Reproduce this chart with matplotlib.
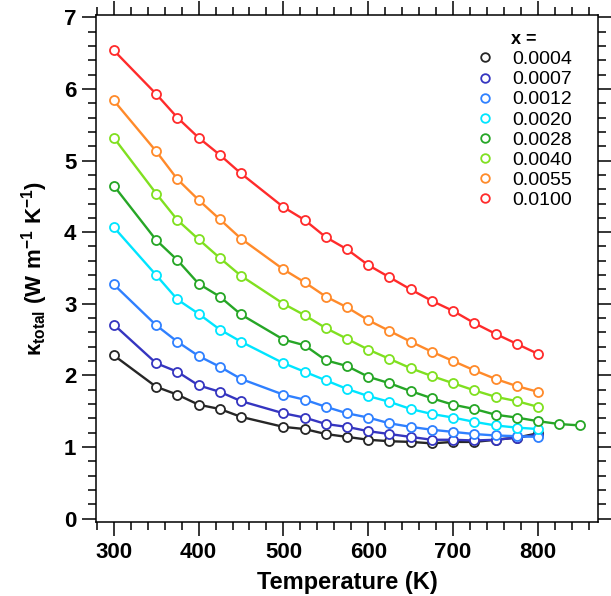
import matplotlib
matplotlib.use("Agg")
import matplotlib.pyplot as plt
from matplotlib.lines import Line2D
from matplotlib.ticker import MultipleLocator

plt.rcParams['font.family'] = ['Liberation Sans', 'DejaVu Sans']
plt.rcParams['mathtext.fontset'] = 'custom'
plt.rcParams['mathtext.rm'] = 'Liberation Sans:bold'
plt.rcParams['mathtext.it'] = 'Liberation Sans:bold'
plt.rcParams['mathtext.bf'] = 'Liberation Sans:bold'

T = [300, 350, 375, 400, 425, 450, 500, 525, 550, 575, 600, 625, 650, 675, 700, 725, 750, 775, 800]
T_ext = T + [825, 850]

labels = ["0.0004", "0.0007", "0.0012", "0.0020", "0.0028", "0.0040", "0.0055", "0.0100"]
colors = ["#262626", "#3535c0", "#2f80ff", "#00e5ff", "#26a626", "#80e020", "#ff8a2a", "#ff2b2b"]

k_0004 = [2.28, 1.84, 1.73, 1.59, 1.53, 1.42, 1.28, 1.25, 1.18, 1.14, 1.10, 1.08, 1.07, 1.05, 1.07, 1.07, 1.10, 1.13, 1.19]
k_0007 = [2.71, 2.17, 2.05, 1.86, 1.77, 1.64, 1.47, 1.41, 1.32, 1.28, 1.22, 1.18, 1.14, 1.10, 1.10, 1.09, 1.10, 1.13, 1.17]
k_0012 = [3.27, 2.70, 2.47, 2.27, 2.12, 1.95, 1.73, 1.66, 1.56, 1.47, 1.41, 1.33, 1.28, 1.24, 1.21, 1.18, 1.16, 1.15, 1.14]
k_0020 = [4.07, 3.40, 3.06, 2.86, 2.64, 2.47, 2.17, 2.05, 1.93, 1.81, 1.71, 1.63, 1.53, 1.46, 1.41, 1.35, 1.30, 1.27, 1.25]
k_0028 = [4.65, 3.89, 3.61, 3.28, 3.10, 2.85, 2.50, 2.42, 2.21, 2.13, 1.98, 1.89, 1.78, 1.68, 1.59, 1.53, 1.45, 1.41, 1.36, 1.32, 1.30]
k_0040 = [5.32, 4.54, 4.17, 3.90, 3.64, 3.39, 3.00, 2.84, 2.66, 2.51, 2.36, 2.23, 2.10, 1.99, 1.89, 1.79, 1.70, 1.64, 1.56]
k_0055 = [5.84, 5.13, 4.74, 4.45, 4.18, 3.91, 3.48, 3.30, 3.10, 2.95, 2.77, 2.62, 2.47, 2.33, 2.20, 2.07, 1.95, 1.85, 1.77]
k_0100 = [6.54, 5.93, 5.60, 5.32, 5.08, 4.82, 4.35, 4.17, 3.93, 3.76, 3.54, 3.37, 3.20, 3.04, 2.90, 2.73, 2.58, 2.44, 2.30]

series = [k_0004, k_0007, k_0012, k_0020, k_0028, k_0040, k_0055, k_0100]

fig = plt.figure(figsize=(6.11, 5.96), dpi=100)
ax = fig.add_axes([0.157, 0.124, 0.822, 0.851])

handles = []
for lab, col, ys in zip(labels, colors, series):
    xs = T_ext if len(ys) == len(T_ext) else T
    ax.plot(xs, ys, color=col, lw=1.7, marker='o', ms=6.5, mfc='white',
            mec=col, mew=1.3, zorder=3)
    handles.append(Line2D([], [], ls='none', marker='o', ms=6.2, mfc='white',
                          mec=col, mew=1.3))

ax.set_xlim(279, 871)
ax.set_ylim(-0.05, 7.035)
ax.xaxis.set_major_locator(MultipleLocator(100))
ax.xaxis.set_minor_locator(MultipleLocator(20))
ax.yaxis.set_major_locator(MultipleLocator(1))
ax.yaxis.set_minor_locator(MultipleLocator(0.2))
ax.tick_params(which='both', direction='out', top=True, right=True,
               labeltop=False, labelright=False, width=1.1)
ax.tick_params(which='major', length=10, labelsize=16, pad=4)
ax.tick_params(which='minor', length=5.5)
for lbl in ax.get_xticklabels() + ax.get_yticklabels():
    lbl.set_fontweight('bold')
for sp in ax.spines.values():
    sp.set_linewidth(1.1)

ax.set_xlabel('Temperature (K)', fontsize=17, fontweight='bold', labelpad=6)
ax.set_ylabel(r'$\kappa_{\rm total}$ $\mathrm{(W\ m^{-1}\ K^{-1})}$', fontsize=16,
              fontweight='bold', labelpad=10)

leg = ax.legend(handles, labels, title='x =', loc='upper right',
                bbox_to_anchor=(0.975, 0.995), frameon=False, fontsize=14,
                handlelength=1.0, handletextpad=0.9, labelspacing=0.13,
                borderaxespad=0.3)
leg.get_title().set_fontweight('bold')
leg.get_title().set_fontsize(13)

fig.savefig('out.png', dpi=100)
